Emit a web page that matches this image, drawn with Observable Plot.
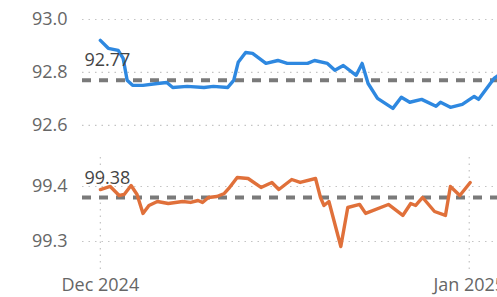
<!DOCTYPE html>
<html>
<head>
<meta charset="utf-8">
<script src="https://cdn.jsdelivr.net/npm/d3@7"></script>
<script src="https://cdn.jsdelivr.net/npm/@observablehq/plot@0.6"></script>
<style>
  html, body { margin: 0; padding: 0; background: #fff; }
  #chart { width: 497px; height: 297px; overflow: hidden; }
  #chart svg { display: block; }
</style>
</head>
<body>
<div id="chart"></div>
<script>
// Top series (blue): time stamps and values
const blueDates = [
  "2024-12-01T00:00","2024-12-01T16:00","2024-12-02T12:00","2024-12-02T22:00","2024-12-03T06:00",
  "2024-12-03T17:00","2024-12-04T14:00","2024-12-05T19:00","2024-12-06T14:00","2024-12-07T02:00",
  "2024-12-08T07:00","2024-12-09T17:00","2024-12-10T12:00","2024-12-11T17:00","2024-12-12T05:00",
  "2024-12-12T14:00","2024-12-13T05:00","2024-12-13T19:00","2024-12-14T22:00","2024-12-15T22:00",
  "2024-12-16T17:00","2024-12-18T10:00","2024-12-19T00:00","2024-12-20T02:00","2024-12-20T17:00",
  "2024-12-21T10:00","2024-12-22T12:00","2024-12-23T00:00","2024-12-23T12:00","2024-12-24T07:00",
  "2024-12-25T14:00","2024-12-26T07:00","2024-12-27T00:00","2024-12-28T00:00","2024-12-29T05:00",
  "2024-12-29T14:00","2024-12-30T10:00","2024-12-31T10:00","2025-01-01T10:00","2025-01-01T19:00",
  "2025-01-03T02:00","2025-01-03T12:00"
];
const blueValues = [
  92.921, 92.891, 92.883, 92.853, 92.770,
  92.751, 92.751, 92.758, 92.762, 92.743,
  92.747, 92.743, 92.747, 92.743, 92.770,
  92.838, 92.875, 92.872, 92.834, 92.845,
  92.834, 92.834, 92.845, 92.834, 92.808,
  92.826, 92.789, 92.834, 92.758, 92.702,
  92.664, 92.706, 92.687, 92.698, 92.672,
  92.687, 92.668, 92.679, 92.709, 92.698,
  92.777, 92.790
];
// Bottom series (orange)
const orangeDates = [
  "2024-12-01T00:00","2024-12-01T20:00","2024-12-02T14:00","2024-12-03T00:00","2024-12-03T14:00",
  "2024-12-04T02:00","2024-12-04T14:00","2024-12-05T02:00","2024-12-05T19:00","2024-12-06T17:00",
  "2024-12-07T22:00","2024-12-08T14:00","2024-12-09T05:00","2024-12-09T14:00","2024-12-10T02:00",
  "2024-12-10T19:00","2024-12-11T10:00","2024-12-11T19:00","2024-12-12T12:00","2024-12-13T10:00",
  "2024-12-14T12:00","2024-12-15T10:00","2024-12-16T00:00","2024-12-17T02:00","2024-12-17T19:00",
  "2024-12-19T02:00","2024-12-19T12:00","2024-12-19T19:00","2024-12-20T05:00","2024-12-21T05:00",
  "2024-12-21T19:00","2024-12-22T19:00","2024-12-23T07:00","2024-12-25T05:00","2024-12-26T10:00",
  "2024-12-27T02:00","2024-12-27T12:00","2024-12-28T02:00","2024-12-29T02:00","2024-12-30T00:00",
  "2024-12-30T10:00","2024-12-31T05:00","2025-01-01T02:00"
];
const orangeValues = [
  99.3945, 99.4000, 99.3836, 99.3855, 99.4018,
  99.3855, 99.3510, 99.3655, 99.3727, 99.3690,
  99.3727, 99.3710, 99.3745, 99.3710, 99.3800,
  99.3818, 99.3873, 99.3964, 99.4164, 99.4145,
  99.3982, 99.4073, 99.3945, 99.4127, 99.4073,
  99.4145, 99.3800, 99.3655, 99.3727, 99.2909,
  99.3618, 99.3673, 99.3510, 99.3673, 99.3473,
  99.3691, 99.3655, 99.3800, 99.3545, 99.3473,
  99.4000, 99.3836, 99.4073
];
const blueRef = 92.77;
const orangeRef = 99.38;
const topTicks = [92.6, 92.8, 93.0];
const bottomTicks = [99.3, 99.4];
const xTicks = ["2024-12-01", "2025-01-01"];
const xTickLabels = ["Dec 2024", "Jan 2025"];

const parse = d3.isoParse;
const blue = blueDates.map((d, i) => ({date: parse(d), value: blueValues[i]}));
const orange = orangeDates.map((d, i) => ({date: parse(d), value: orangeValues[i]}));
const xDomain = [parse("2024-11-29T12:00"), parse("2025-01-03T09:00")];
const xTickDates = xTicks.map(parse);

const font = "'Open Sans', 'Segoe UI', 'Noto Sans', sans-serif";
const W = 497;
const mLeft = 82;

const topChart = Plot.plot({
  width: W, height: 140,
  marginLeft: mLeft, marginRight: 0, marginTop: 19, marginBottom: 2,
  style: {fontFamily: font, fontSize: "18px", color: "#666", background: "transparent"},
  x: {domain: xDomain, axis: null},
  y: {domain: [92.55, 93.0], ticks: topTicks, tickFormat: d3.format(".1f"), tickSize: 0, tickPadding: 15, label: null},
  marks: [
    Plot.gridY(topTicks, {stroke: "#c4c4c4", strokeOpacity: 1, strokeDasharray: "1.5,5", strokeWidth: 1.2}),
    Plot.ruleY([blueRef], {stroke: "#7a7a7a", strokeWidth: 4, strokeDasharray: "9,8"}),
    Plot.lineY(blue, {x: "date", y: "value", stroke: "#2e88e0", strokeWidth: 3.4, curve: "linear"}),
    Plot.text([blueRef], {x: xDomain[0], y: d => d, text: d => d.toFixed(2), dx: 2, dy: -20, textAnchor: "start", fill: "#444", fontSize: 18})
  ]
});

const bottomChart = Plot.plot({
  width: W, height: 157,
  marginLeft: mLeft, marginRight: 0, marginTop: 17, marginBottom: 25,
  style: {fontFamily: font, fontSize: "18px", color: "#666", background: "transparent"},
  x: {domain: xDomain, ticks: xTickDates, tickFormat: (d, i) => xTickLabels[i], tickSize: 0, tickPadding: 6, label: null},
  y: {domain: [99.2436, 99.4527], ticks: bottomTicks, tickFormat: d3.format(".1f"), tickSize: 0, tickPadding: 15, label: null},
  marks: [
    Plot.gridY(bottomTicks, {stroke: "#c4c4c4", strokeOpacity: 1, strokeDasharray: "1.5,5", strokeWidth: 1.2}),
    Plot.gridX(xTickDates, {stroke: "#c4c4c4", strokeOpacity: 1, strokeDasharray: "1.5,5", strokeWidth: 1.2}),
    Plot.ruleY([orangeRef], {stroke: "#7a7a7a", strokeWidth: 4, strokeDasharray: "9,8"}),
    Plot.lineY(orange, {x: "date", y: "value", stroke: "#e0703a", strokeWidth: 3.4, curve: "linear"}),
    Plot.text([orangeRef], {x: xDomain[0], y: d => d, text: d => d.toFixed(2), dx: 2, dy: -19, textAnchor: "start", fill: "#444", fontSize: 18})
  ]
});

const el = document.getElementById("chart");
el.appendChild(topChart);
el.appendChild(bottomChart);
</script>
</body>
</html>
